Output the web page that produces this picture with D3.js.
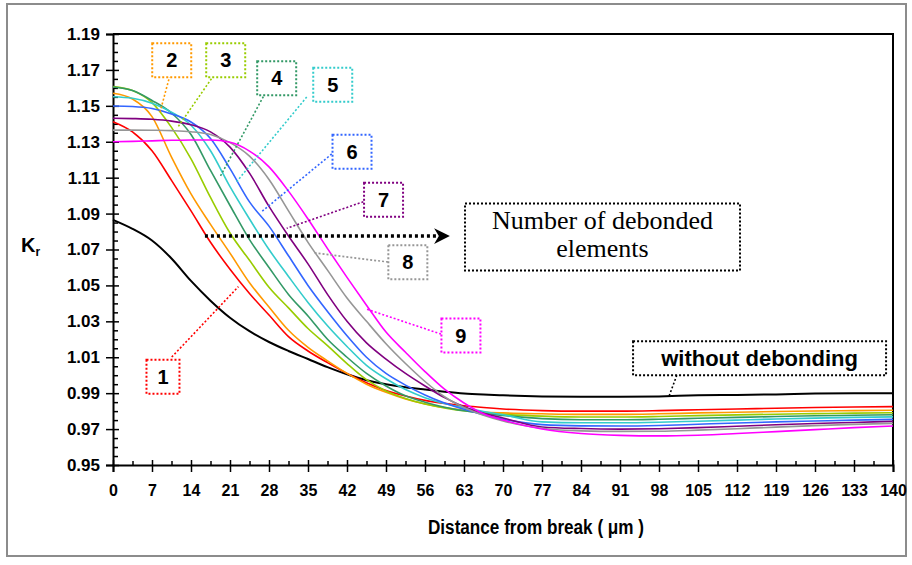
<!DOCTYPE html>
<html>
<head>
<meta charset="utf-8">
<script src="https://cdn.jsdelivr.net/npm/d3@7"></script>
<style>
  body { margin: 0; background: #fff; }
  svg { display: block; }
</style>
</head>
<body>
<svg id="chart" width="912" height="565"></svg>
<script>
// distance from break (um)
const dist = [0, 3.5, 7, 10.5, 14, 17.5, 21, 24.5, 28, 31.5, 35, 38.5, 42, 45.5, 49, 52.5, 56, 59.5, 63, 66.5, 70, 77, 84, 91, 98, 105, 112, 119, 126, 133, 140];

// Kr for 1..9 debonded elements
const kr1 = [1.1412, 1.1355, 1.1250, 1.1085, 1.0915, 1.0740, 1.0590, 1.0455, 1.0335, 1.0215, 1.0135, 1.0070, 1.0010, 0.9958, 0.9915, 0.9884, 0.9860, 0.9843, 0.9830, 0.9820, 0.9812, 0.9803, 0.9800, 0.9800, 0.9803, 0.9808, 0.9812, 0.9816, 0.9820, 0.9823, 0.9825];
const kr2 = [1.1570, 1.1538, 1.1440, 1.1215, 1.1010, 1.0840, 1.0680, 1.0515, 1.0380, 1.0250, 1.0155, 1.0080, 1.0010, 0.9950, 0.9905, 0.9868, 0.9840, 0.9820, 0.9805, 0.9795, 0.9790, 0.9785, 0.9782, 0.9782, 0.9785, 0.9790, 0.9794, 0.9798, 0.9801, 0.9803, 0.9805];
const kr3 = [1.1607, 1.1585, 1.1518, 1.1380, 1.1205, 1.0990, 1.0792, 1.0640, 1.0490, 1.0375, 1.0260, 1.0165, 1.0065, 0.9975, 0.9912, 0.9870, 0.9840, 0.9818, 0.9802, 0.9790, 0.9782, 0.9772, 0.9767, 0.9767, 0.9770, 0.9775, 0.9779, 0.9783, 0.9786, 0.9789, 0.9791];
const kr4 = [1.1605, 1.1585, 1.1530, 1.1460, 1.1340, 1.1140, 1.0945, 1.0755, 1.0600, 1.0450, 1.0330, 1.0200, 1.0100, 1.0010, 0.9940, 0.9885, 0.9850, 0.9822, 0.9802, 0.9787, 0.9776, 0.9758, 0.9752, 0.9752, 0.9755, 0.9760, 0.9765, 0.9770, 0.9774, 0.9777, 0.9780];
const kr5 = [1.1551, 1.1542, 1.1515, 1.1465, 1.1392, 1.1250, 1.1050, 1.0870, 1.0700, 1.0550, 1.0405, 1.0275, 1.0160, 1.0055, 0.9980, 0.9920, 0.9875, 0.9843, 0.9818, 0.9798, 0.9780, 0.9740, 0.9735, 0.9735, 0.9738, 0.9744, 0.9750, 0.9756, 0.9761, 0.9765, 0.9768];
const kr6 = [1.1499, 1.1496, 1.1485, 1.1455, 1.1410, 1.1318, 1.1150, 1.0965, 1.0830, 1.0665, 1.0500, 1.0355, 1.0220, 1.0100, 1.0010, 0.9945, 0.9890, 0.9845, 0.9810, 0.9780, 0.9755, 0.9725, 0.9718, 0.9717, 0.9720, 0.9727, 0.9734, 0.9740, 0.9745, 0.9750, 0.9754];
const kr7 = [1.1431, 1.1429, 1.1425, 1.1415, 1.1395, 1.1355, 1.1270, 1.1125, 1.0940, 1.0775, 1.0620, 1.0450, 1.0300, 1.0180, 1.0090, 1.0010, 0.9940, 0.9875, 0.9825, 0.9788, 0.9762, 0.9712, 0.9703, 0.9700, 0.9702, 0.9708, 0.9716, 0.9724, 0.9731, 0.9737, 0.9743];
const kr8 = [1.1365, 1.1365, 1.1364, 1.1362, 1.1356, 1.1340, 1.1295, 1.1220, 1.1090, 1.0915, 1.0740, 1.0585, 1.0430, 1.0300, 1.0175, 1.0065, 0.9965, 0.9880, 0.9820, 0.9777, 0.9745, 0.9705, 0.9690, 0.9687, 0.9688, 0.9694, 0.9702, 0.9711, 0.9719, 0.9726, 0.9732];
const kr9 = [1.1300, 1.1302, 1.1305, 1.1308, 1.1310, 1.1310, 1.1297, 1.1248, 1.1160, 1.1025, 1.0870, 1.0705, 1.0545, 1.0390, 1.0240, 1.0128, 1.0020, 0.9922, 0.9845, 0.9785, 0.9750, 0.9700, 0.9675, 0.9665, 0.9662, 0.9666, 0.9675, 0.9686, 0.9697, 0.9708, 0.9717];
// without debonding
const kr0 = [1.0865, 1.0815, 1.0750, 1.0650, 1.0525, 1.0415, 1.0320, 1.0245, 1.0185, 1.0135, 1.0090, 1.0045, 1.0005, 0.9972, 0.9950, 0.9933, 0.9920, 0.9908, 0.9898, 0.9892, 0.9888, 0.9882, 0.9880, 0.9880, 0.9882, 0.9888, 0.9890, 0.9893, 0.9898, 0.9900, 0.9900];

const seriesNames = ["1", "2", "3", "4", "5", "6", "7", "8", "9"];
const yTicks = [0.95, 0.97, 0.99, 1.01, 1.03, 1.05, 1.07, 1.09, 1.11, 1.13, 1.15, 1.17, 1.19];
const xTicks = [0, 7, 14, 21, 28, 35, 42, 49, 56, 63, 70, 77, 84, 91, 98, 105, 112, 119, 126, 133, 140];

const colors = ["#ff0000", "#ff9900", "#99cc00", "#339966", "#33cccc", "#3366ff", "#800080", "#969696", "#ff00ff"];

// label boxes: centre in data units, connector from box to curve
const labels = [
  {name: "1", at: [8.97, 0.9992], from: [10.54, 1.0101], to: [22.5, 1.0493]},
  {name: "2", at: [10.54, 1.1754], from: [10.59, 1.1712], to: [8.44, 1.1465]},
  {name: "3", at: [20.23, 1.1754], from: [18.9, 1.1706], to: [11.67, 1.1383]},
  {name: "4", at: [29.38, 1.1654], from: [26.98, 1.1551], to: [19.21, 1.1105]},
  {name: "5", at: [39.44, 1.1618], from: [34.77, 1.1549], to: [22.2, 1.1078]},
  {name: "6", at: [42.9, 1.1245], from: [39.26, 1.1232], to: [26.69, 1.0911]},
  {name: "7", at: [48.56, 1.0977], from: [44.93, 1.0966], to: [31.18, 1.0818]},
  {name: "8", at: [52.92, 1.0629], from: [49.36, 1.0630], to: [35.95, 1.0682]},
  {name: "9", at: [62.45, 1.0221], from: [58.88, 1.0229], to: [45.41, 1.0369]}
];

const width = 912, height = 565;
const margin = {top: 34, right: 19, bottom: 100, left: 113};
const font = "Liberation Sans, Arial, sans-serif";

const svg = d3.select("#chart");

// outer frame
svg.append("rect")
  .attr("x", 7).attr("y", 4)
  .attr("width", 899).attr("height", 552)
  .attr("fill", "#fff")
  .attr("stroke", "#8c8c8c")
  .attr("stroke-width", 2);

const x = d3.scaleLinear()
  .domain([0, 140])
  .range([margin.left, width - margin.right]);

const y = d3.scaleLinear()
  .domain([0.95, 1.19])
  .range([height - margin.bottom, margin.top]);

// plot box top and right
svg.append("path")
  .attr("d", `M${x(0)},${y(1.19)}H${x(140)}V${y(0.95)}`)
  .attr("fill", "none")
  .attr("stroke", "#000")
  .attr("stroke-width", 2);

// minor ticks
const yMinor = d3.range(0, 48).map(i => 0.95 + i * 0.005).filter((v, i) => i % 4 !== 0);
const xMinor = d3.range(3.5, 140, 7);

svg.append("g")
  .attr("transform", `translate(${x(0)},0)`)
  .call(d3.axisRight(y).tickValues(yMinor).tickSize(5).tickFormat(""))
  .call(g => g.select(".domain").remove())
  .selectAll("line").attr("stroke-width", 1.5);

svg.append("g")
  .attr("transform", `translate(0,${y(0.95)})`)
  .call(d3.axisTop(x).tickValues(xMinor).tickSize(4).tickFormat(""))
  .call(g => g.select(".domain").remove())
  .selectAll("line").attr("stroke-width", 1.5);

// y axis
svg.append("g")
  .attr("transform", `translate(${x(0)},0)`)
  .call(d3.axisLeft(y).tickValues(yTicks).tickSize(7).tickPadding(6).tickFormat(d3.format(".2f")))
  .call(g => g.select(".domain").attr("stroke-width", 2))
  .call(g => g.selectAll(".tick line").attr("x1", 6).attr("stroke-width", 1.5))
  .call(g => g.selectAll("text")
    .attr("font-family", font)
    .attr("font-weight", "bold")
    .attr("font-size", 17)
    .attr("fill", "#000"));

// x axis
svg.append("g")
  .attr("transform", `translate(0,${y(0.95)})`)
  .call(d3.axisBottom(x).tickValues(xTicks).tickSize(7).tickPadding(13))
  .call(g => g.select(".domain").attr("stroke-width", 2))
  .call(g => g.selectAll(".tick line").attr("y1", -5).attr("stroke-width", 1.5))
  .call(g => g.selectAll("text")
    .attr("font-family", font)
    .attr("font-weight", "bold")
    .attr("font-size", 16)
    .attr("fill", "#000"));

// axis titles
svg.append("text")
  .attr("x", 536)
  .attr("y", 534)
  .attr("text-anchor", "middle")
  .attr("font-family", font)
  .attr("font-weight", "bold")
  .attr("font-size", 20)
  .attr("textLength", 216)
  .attr("lengthAdjust", "spacingAndGlyphs")
  .text("Distance from break ( \u03bcm )");

const kr = svg.append("text")
  .attr("x", 21)
  .attr("y", 252)
  .attr("font-family", font)
  .attr("font-weight", "bold")
  .attr("font-size", 20)
  .text("K");
kr.append("tspan")
  .attr("dy", 4)
  .attr("font-size", 12)
  .text("r");

// curves
const line = d3.line()
  .x((d, i) => x(dist[i]))
  .y(d => y(d))
  .curve(d3.curveMonotoneX);

const series = [kr1, kr2, kr3, kr4, kr5, kr6, kr7, kr8, kr9];

svg.append("path")
  .attr("d", line(kr0))
  .attr("fill", "none")
  .attr("stroke", "#000")
  .attr("stroke-width", 2);

svg.append("g")
  .attr("fill", "none")
  .attr("stroke-width", 1.6)
  .selectAll("path")
  .data(series)
  .join("path")
  .attr("stroke", (d, i) => colors[i])
  .attr("d", d => line(d));

// dotted connectors and label boxes
const lab = svg.append("g");
labels.forEach((l, i) => {
  const bw = l.name === "1" ? 33 : 39, bh = 34;
  lab.append("line")
    .attr("x1", x(l.from[0])).attr("y1", y(l.from[1]))
    .attr("x2", x(l.to[0])).attr("y2", y(l.to[1]))
    .attr("stroke", colors[i])
    .attr("stroke-width", 1.6)
    .attr("stroke-dasharray", "2,2");
  lab.append("rect")
    .attr("x", x(l.at[0]) - bw / 2).attr("y", y(l.at[1]) - bh / 2)
    .attr("width", bw).attr("height", bh)
    .attr("fill", "#fff")
    .attr("stroke", colors[i])
    .attr("stroke-width", 2)
    .attr("stroke-dasharray", "2,2");
  lab.append("text")
    .attr("x", x(l.at[0])).attr("y", y(l.at[1]) + 7)
    .attr("text-anchor", "middle")
    .attr("font-family", font)
    .attr("font-weight", "bold")
    .attr("font-size", 20)
    .text(l.name);
});

// arrow for number of debonded elements
svg.append("defs").append("marker")
  .attr("id", "head")
  .attr("viewBox", "0 0 10 10")
  .attr("refX", 2).attr("refY", 5)
  .attr("markerWidth", 4.5).attr("markerHeight", 4.5)
  .attr("orient", "auto")
  .append("path")
  .attr("d", "M0,0L10,5L0,10L3,5Z")
  .attr("fill", "#000");

svg.append("line")
  .attr("x1", x(16.5)).attr("y1", y(1.0775))
  .attr("x2", x(58.2)).attr("y2", y(1.0775))
  .attr("stroke", "#000")
  .attr("stroke-width", 3.5)
  .attr("stroke-dasharray", "3,3")
  .attr("marker-end", "url(#head)");

svg.append("rect")
  .attr("x", x(63.18)).attr("y", y(1.0956))
  .attr("width", 275).attr("height", 67)
  .attr("fill", "#fff")
  .attr("stroke", "#000")
  .attr("stroke-width", 2)
  .attr("stroke-dasharray", "2,2");

svg.append("text")
  .attr("x", x(87.86)).attr("y", 229)
  .attr("text-anchor", "middle")
  .attr("font-family", "Liberation Serif, Times New Roman, serif")
  .attr("font-size", 26)
  .text("Number of debonded");
svg.append("text")
  .attr("x", x(87.86)).attr("y", 257)
  .attr("text-anchor", "middle")
  .attr("font-family", "Liberation Serif, Times New Roman, serif")
  .attr("font-size", 26)
  .text("elements");

// without debonding label
svg.append("line")
  .attr("x1", x(101.2)).attr("y1", y(1.0))
  .attr("x2", x(99.8)).attr("y2", y(0.9883))
  .attr("stroke", "#000")
  .attr("stroke-width", 1.6)
  .attr("stroke-dasharray", "2,2");

svg.append("rect")
  .attr("x", x(116.05) - 126.5).attr("y", y(1.0094) - 17)
  .attr("width", 253).attr("height", 34)
  .attr("fill", "#fff")
  .attr("stroke", "#000")
  .attr("stroke-width", 2)
  .attr("stroke-dasharray", "2,2");

svg.append("text")
  .attr("x", x(116.05)).attr("y", y(1.0094) + 8)
  .attr("text-anchor", "middle")
  .attr("font-family", font)
  .attr("font-weight", "bold")
  .attr("font-size", 22)
  .text("without debonding");
</script>
</body>
</html>
